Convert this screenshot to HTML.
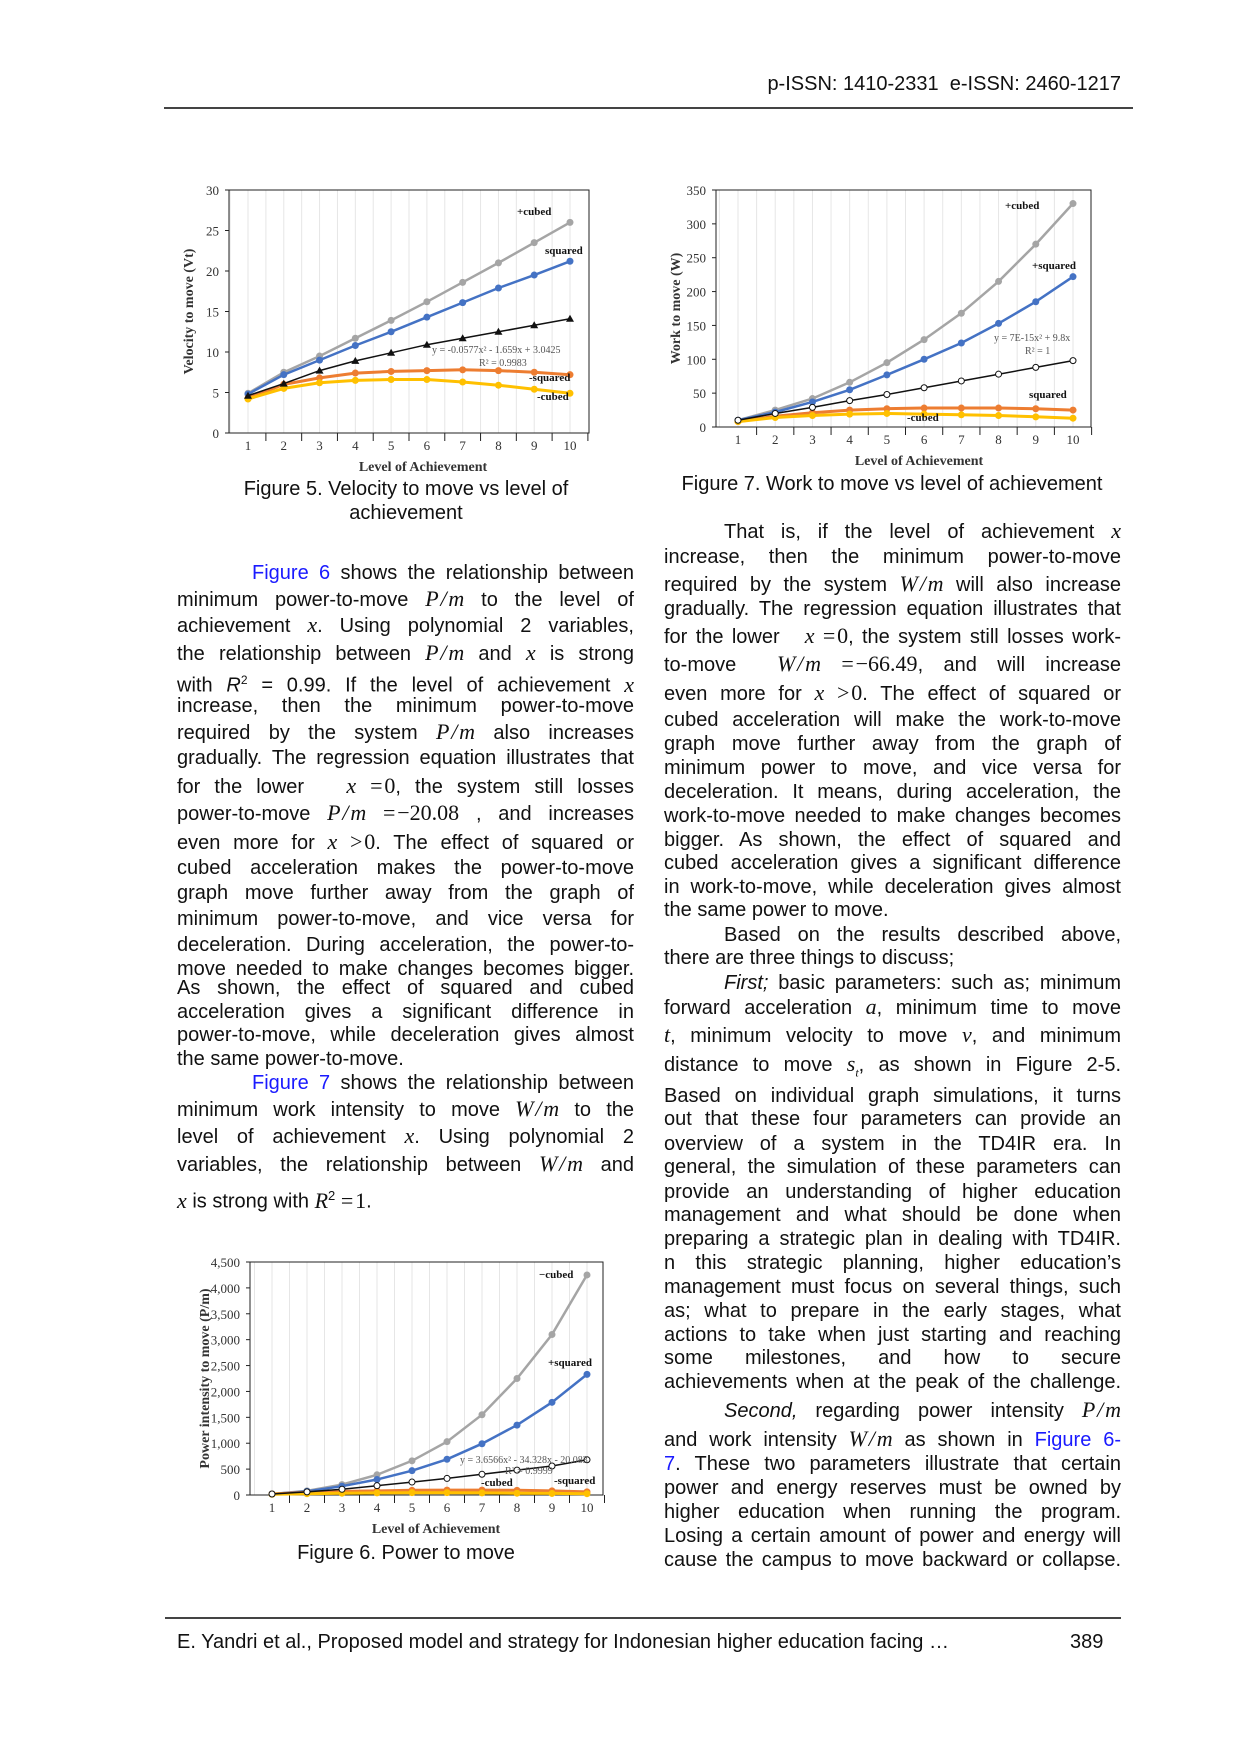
<!DOCTYPE html>
<html><head><meta charset="utf-8">
<style>
body{margin:0;background:#fff;}
#pg{position:relative;width:1241px;height:1754px;overflow:hidden;font-family:"Liberation Sans",sans-serif;color:#111;}
.l{position:absolute;font-size:20px;line-height:24px;white-space:nowrap;}
.j{text-align:justify;text-align-last:justify;white-space:normal;}
.m{font-family:"Liberation Serif",serif;font-style:italic;font-size:22px;display:inline-block;white-space:nowrap;}
.n{font-family:"Liberation Serif",serif;font-size:22px;display:inline-block;white-space:nowrap;}
.b{color:#1a1aff;}
svg{position:absolute;left:0;top:0;}
</style></head><body><div id="pg">
<div class="l" style="left:750px;top:72px;width:371px;text-align:right;">p-ISSN: 1410-2331&nbsp; e-ISSN: 2460-1217</div>
<div style="position:absolute;left:164px;top:107px;width:969px;height:2px;background:#444;"></div>
<div style="position:absolute;left:165px;top:1617px;width:956px;height:2px;background:#444;"></div>
<div class="l" style="left:177px;top:1630px;">E. Yandri et al., Proposed model and strategy for Indonesian higher education facing …</div>
<div class="l" style="left:1070px;top:1630px;">389</div>

<svg id="s" width="1241" height="1754" font-family="Liberation Serif,serif"></svg>

<div class="l" style="left:206px;top:477px;width:400px;text-align:center;">Figure 5. Velocity to move vs level of</div>
<div class="l" style="left:206px;top:501px;width:400px;text-align:center;">achievement</div>
<div class="l" style="left:652px;top:472px;width:480px;text-align:center;">Figure 7. Work to move vs level of achievement</div>
<div class="l" style="left:206px;top:1541px;width:400px;text-align:center;">Figure 6. Power to move</div>

<div id="L"></div>
<script>
var L=[
[574,'<span class="b">Figure 6</span> shows the relationship between',1,'indent'],
[600,'minimum power-to-move <span class="m">P&#8202;/&#8202;m</span> to the level of',1],
[626,'achievement <span class="m">x</span>. Using polynomial 2 variables,',1],
[654,'the relationship between <span class="m">P&#8202;/&#8202;m</span> and <span class="m">x</span> is strong',1],
[681,'with <i>R</i><sup style="font-size:12px">2</sup> = 0.99. If the level of achievement <span class="m">x</span>',1],
[707,'increase, then the minimum power-to-move',1],
[733,'required by the system <span class="m">P&#8202;/&#8202;m</span> also increases',1],
[759,'gradually. The regression equation illustrates that',1],
[787,'for the lower &nbsp; <span class="m">x</span> <span class="n">=&#8202;0</span>, the system still losses',1],
[814,'power-to-move <span class="m">P&#8202;/&#8202;m</span> <span class="n">=&#8202;−20.08</span> , and increases',1],
[843,'even more for <span class="m">x</span> <span class="n">&gt;&#8202;0</span>. The effect of squared or',1],
[869,'cubed acceleration makes the power-to-move',1],
[894,'graph move further away from the graph of',1],
[920,'minimum power-to-move, and vice versa for',1],
[946,'deceleration. During acceleration, the power-to-',1],
[970,'move needed to make changes becomes bigger.',1],
[989,'As shown, the effect of squared and cubed',1],
[1013,'acceleration gives a significant difference in',1],
[1036,'power-to-move, while deceleration gives almost',1],
[1060,'the same power-to-move.',0],
[1084,'<span class="b">Figure 7</span> shows the relationship between',1,'indent'],
[1110,'minimum work intensity to move <span class="m">W&#8202;/&#8202;m</span> to the',1],
[1137,'level of achievement <span class="m">x</span>. Using polynomial 2',1],
[1165,'variables, the relationship between <span class="m">W&#8202;/&#8202;m</span> and',1],
[1197,'<span class="m">x</span> is strong with <span class="m">R</span><sup style="font-size:13px">2</sup> <span class="n">=&#8202;1</span>.',0]
];
var R=[
[532,'That is, if the level of achievement <span class="m">x</span>',1,'indent'],
[558,'increase, then the minimum power-to-move',1],
[585,'required by the system <span class="m">W&#8202;/&#8202;m</span> will also increase',1],
[610,'gradually. The regression equation illustrates that',1],
[637,'for the lower &nbsp; <span class="m">x</span> <span class="n">=&#8202;0</span>, the system still losses work-',1],
[665,'to-move &nbsp;<span class="m">W&#8202;/&#8202;m</span> <span class="n">=&#8202;−66.49</span>, and will increase',1],
[694,'even more for <span class="m">x</span> <span class="n">&gt;&#8202;0</span>. The effect of squared or',1],
[721,'cubed acceleration will make the work-to-move',1],
[745,'graph move further away from the graph of',1],
[769,'minimum power to move, and vice versa for',1],
[793,'deceleration. It means, during acceleration, the',1],
[817,'work-to-move needed to make changes becomes',1],
[841,'bigger. As shown, the effect of squared and',1],
[864,'cubed acceleration gives a significant difference',1],
[888,'in work-to-move, while deceleration gives almost',1],
[911,'the same power to move.',0],
[936,'Based on the results described above,',1,'indent'],
[959,'there are three things to discuss;',0],
[984,'<i>First;</i> basic parameters: such as; minimum',1,'indent'],
[1008,'forward acceleration <span class="m">a</span>, minimum time to move',1],
[1036,'<span class="m">t</span>, minimum velocity to move <span class="m">v</span>, and minimum',1],
[1065,'distance to move <span class="m">s<sub style="font-size:12px">t</sub></span>, as shown in Figure 2-5.',1],
[1097,'Based on individual graph simulations, it turns',1],
[1120,'out that these four parameters can provide an',1],
[1145,'overview of a system in the TD4IR era. In',1],
[1168,'general, the simulation of these parameters can',1],
[1193,'provide an understanding of higher education',1],
[1216,'management and what should be done when',1],
[1240,'preparing a strategic plan in dealing with TD4IR.',1],
[1264,'n this strategic planning, higher education’s',1],
[1288,'management must focus on several things, such',1],
[1312,'as; what to prepare in the early stages, what',1],
[1336,'actions to take when just starting and reaching',1],
[1359,'some milestones, and how to secure',1],
[1383,'achievements when at the peak of the challenge.',1],
[1411,'<i>Second,</i> regarding power intensity <span class="m">P&#8202;/&#8202;m</span>',1,'indent'],
[1440,'and work intensity <span class="m">W&#8202;/&#8202;m</span> as shown in <span class="b">Figure 6-</span>',1],
[1465,'<span class="b">7</span>. These two parameters illustrate that certain',1],
[1489,'power and energy reserves must be owned by',1],
[1513,'higher education when running the program.',1],
[1537,'Losing a certain amount of power and energy will',1],
[1561,'cause the campus to move backward or collapse.',1]
];
var h='';
function add2(a,x0,w){a.forEach(function(r){var ind=r[3]?(x0<400?75:60):0;
h+='<div class="l'+(r[2]?' j':'')+'" style="left:'+(x0+ind)+'px;top:'+(r[0]-13)+'px;width:'+(w-ind)+'px;">'+r[1]+'</div>';});}
add2(L,177,457);add2(R,664,457);
document.getElementById('L').innerHTML=h;

var S='';
function chart(c){
 var X=function(i){return c.x1+(c.x10-c.x1)*(i-1)/9;};
 var Y=function(v){return c.bot-(c.bot-c.top)*v/c.ymax;};
 var step=(c.x10-c.x1)/9;
 for(var i=0;i<20;i++){var gx=c.x1-step/2+i*step/2;if(gx>c.left&&gx<c.right)S+='<line x1="'+gx+'" y1="'+c.top+'" x2="'+gx+'" y2="'+c.bot+'" stroke="#e6e6e6" stroke-width="1"/>';}
 S+='<rect x="'+c.left+'" y="'+c.top+'" width="'+(c.right-c.left)+'" height="'+(c.bot-c.top)+'" fill="none" stroke="#222" stroke-width="1"/>';
 c.yt.forEach(function(t){var y=Y(t[0]);S+='<text x="'+(c.left-10)+'" y="'+(y+5)+'" font-size="13" text-anchor="end" fill="#333">'+t[1]+'</text><line x1="'+(c.left-4)+'" y1="'+y+'" x2="'+c.left+'" y2="'+y+'" stroke="#222"/>';});
 for(i=1;i<=10;i++){S+='<text x="'+X(i)+'" y="'+(c.bot+17)+'" font-size="13" text-anchor="middle" fill="#333">'+i+'</text>';
  S+='<line x1="'+(X(i)+step/2)+'" y1="'+c.bot+'" x2="'+(X(i)+step/2)+'" y2="'+(c.bot+8)+'" stroke="#222"/>';}
 S+='<text x="'+c.tx+'" y="'+(c.bot+38)+'" font-size="14" font-weight="bold" text-anchor="middle" fill="#333">Level of Achievement</text>';
 S+='<text transform="translate('+c.yx+','+((c.top+c.bot)/2)+') rotate(-90)" font-size="14" font-weight="bold" text-anchor="middle" fill="#333">'+c.ytitle+'</text>';
 c.s.forEach(function(s){var p=s.d.map(function(v,k){return X(k+1).toFixed(1)+','+Y(v).toFixed(1);}).join(' ');
  S+='<polyline points="'+p+'" fill="none" stroke="'+s.c+'" stroke-width="'+(s.w||2.5)+'"/>';
  s.d.forEach(function(v,k){ if(s.m==='t')S+='<path d="M'+(X(k+1)-4)+','+(Y(v)+3)+'l4,-7l4,7z" fill="#111"/>';
   else if(s.m==='o')S+='<circle cx="'+X(k+1)+'" cy="'+Y(v)+'" r="3" fill="#fff" stroke="#111"/>';
   else S+='<circle cx="'+X(k+1)+'" cy="'+Y(v)+'" r="3.5" fill="'+s.c+'"/>';});
 });
 c.lab.forEach(function(t){S+='<text x="'+t[0]+'" y="'+t[1]+'" font-size="'+(t[3]||11)+'" font-weight="'+(t[4]?'normal':'bold')+'" fill="'+(t[4]||'#111')+'">'+t[2]+'</text>';});
}
chart({left:229,right:589,top:190,bot:433,x1:248,x10:570,ymax:30,yt:[[0,0],[5,5],[10,10],[15,15],[20,20],[25,25],[30,30]],tx:423,yx:193,ytitle:'Velocity to move (Vt)',
s:[{c:'#a5a5a5',d:[4.9,7.5,9.5,11.7,13.9,16.2,18.6,21.0,23.5,26]},{c:'#4472c4',d:[4.8,7.2,9.0,10.8,12.5,14.3,16.1,17.9,19.5,21.2]},
{c:'#ed7d31',w:3,d:[4.3,6.0,6.8,7.4,7.6,7.7,7.8,7.7,7.5,7.2]},{c:'#ffc000',w:3,d:[4.2,5.5,6.2,6.5,6.6,6.6,6.3,5.9,5.4,4.9]},
{c:'#111',w:1.5,m:'t',d:[4.6,6.1,7.7,8.9,9.9,10.9,11.7,12.5,13.3,14.1]}],
lab:[[517,215,'+cubed'],[545,254,'squared'],[432,353,'y = -0.0577x² - 1.659x + 3.0425',10,'#555'],[479,366,'R² = 0.9983',10,'#555'],[529,381,'-squared'],[537,400,'-cubed']]});
chart({left:716,right:1091,top:190,bot:427,x1:738,x10:1073,ymax:350,yt:[[0,0],[50,50],[100,100],[150,150],[200,200],[250,250],[300,300],[350,350]],tx:919,yx:680,ytitle:'Work to move (W)',
s:[{c:'#a5a5a5',d:[10,25,42,66,95,129,168,215,270,330]},{c:'#4472c4',d:[10,22,37,55,77,100,124,153,185,222]},
{c:'#ed7d31',w:3,d:[8,16,21,25,27,28,28,28,27,25]},{c:'#ffc000',w:3,d:[8,14,17,19,20,19,18,17,15,13]},
{c:'#111',w:1.5,m:'o',d:[10,20,29,39,48,58,68,78,88,98]}],
lab:[[1005,209,'+cubed'],[1032,269,'+squared'],[994,341,'y = 7E-15x² + 9.8x',10,'#555'],[1025,354,'R² = 1',10,'#555'],[1029,398,'squared'],[907,421,'-cubed']]});
chart({left:250,right:603,top:1262,bot:1495,x1:272,x10:587,ymax:4500,yt:[[0,'0'],[500,'500'],[1000,'1,000'],[1500,'1,500'],[2000,'2,000'],[2500,'2,500'],[3000,'3,000'],[3500,'3,500'],[4000,'4,000'],[4500,'4,500']],tx:436,yx:209,ytitle:'Power intensity to move (P/m)',
s:[{c:'#a5a5a5',d:[20,80,200,390,660,1030,1550,2250,3100,4250]},{c:'#4472c4',d:[20,70,170,300,470,690,990,1350,1790,2330]},
{c:'#ed7d31',w:3,d:[20,50,70,80,90,95,95,90,80,60]},{c:'#ffc000',w:3,d:[15,25,35,40,45,45,40,35,30,25]},
{c:'#111',w:1.5,m:'o',d:[20,60,110,180,250,320,400,480,560,680]}],
lab:[[539,1278,'−cubed'],[548,1366,'+squared'],[460,1463,'y = 3.6566x² - 34.328x - 20.083',10,'#555'],[505,1474,'R² = 0.9999',10,'#555'],[481,1486,'-cubed'],[554,1484,'-squared']]});
document.getElementById('s').innerHTML=S;
</script>
</div></body></html>
